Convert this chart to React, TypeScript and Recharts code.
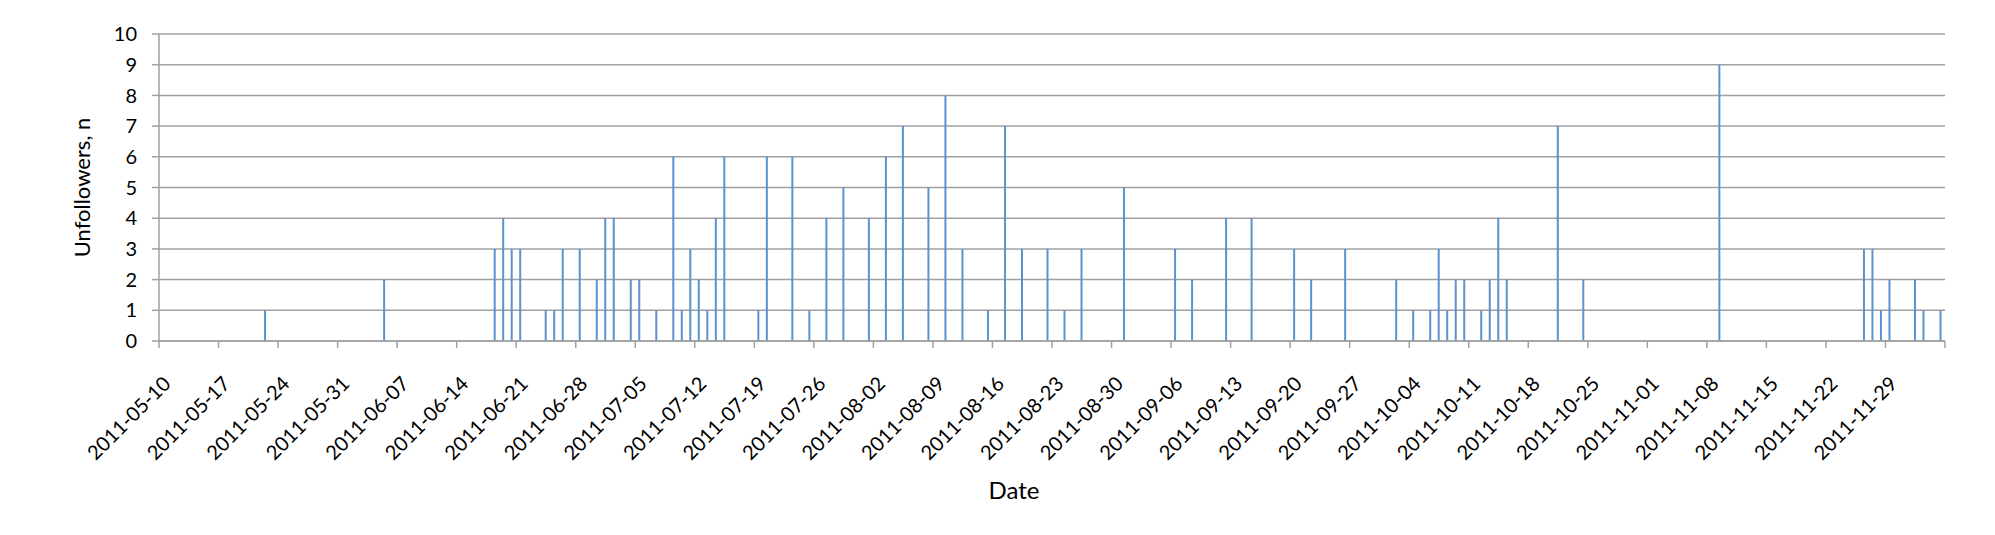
import { Bar, BarChart, CartesianGrid, XAxis, YAxis } from 'recharts';

// days with at least one unfollower, and how many
const unfollowDates = [
	'2011-05-22', '2011-06-05',
	'2011-06-18', '2011-06-19', '2011-06-20', '2011-06-21', '2011-06-24', '2011-06-25', '2011-06-26', '2011-06-28', '2011-06-30',
	'2011-07-01', '2011-07-02', '2011-07-04', '2011-07-05', '2011-07-07', '2011-07-09', '2011-07-10', '2011-07-11', '2011-07-12',
	'2011-07-13', '2011-07-14', '2011-07-15', '2011-07-19', '2011-07-20', '2011-07-23', '2011-07-25', '2011-07-27', '2011-07-29',
	'2011-08-01', '2011-08-03', '2011-08-05', '2011-08-08', '2011-08-10', '2011-08-12', '2011-08-15', '2011-08-17', '2011-08-19',
	'2011-08-22', '2011-08-24', '2011-08-26', '2011-08-31',
	'2011-09-06', '2011-09-08', '2011-09-12', '2011-09-15', '2011-09-20', '2011-09-22', '2011-09-26',
	'2011-10-02', '2011-10-04', '2011-10-06', '2011-10-07', '2011-10-08', '2011-10-09', '2011-10-10', '2011-10-12', '2011-10-13',
	'2011-10-14', '2011-10-15', '2011-10-21', '2011-10-24',
	'2011-11-09', '2011-11-26', '2011-11-27', '2011-11-28', '2011-11-29', '2011-12-02', '2011-12-03', '2011-12-05',
];

const unfollowCounts = [
	1, 2,
	3, 4, 3, 3, 1, 1, 3, 3, 2,
	4, 4, 2, 2, 1, 6, 1, 3, 2,
	1, 4, 6, 1, 6, 6, 1, 4, 5,
	4, 6, 7, 5, 8, 3, 1, 7, 3,
	3, 1, 3, 5,
	3, 2, 4, 4, 3, 2, 3,
	2, 1, 1, 3, 1, 2, 2, 1, 2,
	4, 2, 7, 2,
	9, 3, 3, 1, 2, 2, 1, 1,
];

const dateTickLabels = [
	'2011-05-10', '2011-05-17', '2011-05-24', '2011-05-31', '2011-06-07', '2011-06-14', '2011-06-21', '2011-06-28',
	'2011-07-05', '2011-07-12', '2011-07-19', '2011-07-26', '2011-08-02', '2011-08-09', '2011-08-16', '2011-08-23',
	'2011-08-30', '2011-09-06', '2011-09-13', '2011-09-20', '2011-09-27', '2011-10-04', '2011-10-11', '2011-10-18',
	'2011-10-25', '2011-11-01', '2011-11-08', '2011-11-15', '2011-11-22', '2011-11-29',
];

const yTicks = [0, 1, 2, 3, 4, 5, 6, 7, 8, 9, 10];

const axisStart = '2011-05-10';
const axisEnd = '2011-12-06';

const DAY = 86400000;
const dayIndex = (d: string) => Math.round((Date.parse(d) - Date.parse(axisStart)) / DAY);

// each day is a slot on the axis, the bar sits in the middle of it
const chartData = unfollowDates.map((d, i) => ({ day: dayIndex(d) + 0.5, count: unfollowCounts[i] }));

const endDay = dayIndex(axisEnd);
const xTicks = [...dateTickLabels.map(dayIndex), endDay];

const FONT = 'Lato, "Open Sans", sans-serif';
const GRID = '#a0a0a0';

const DateTick = ({ x, y, payload }: any) => {
	const label = payload.value === endDay ? '' : dateTickLabels[xTicks.indexOf(payload.value)];
	return (
		<g transform={`translate(${x + 13},${y + 37})`}>
			<text x={0} y={0} textAnchor="end" transform="rotate(-45)" fontSize={20} fontFamily={FONT} fill="#000">
				{label}
			</text>
		</g>
	);
};

const renderYTitle = ({ viewBox }: any) => (
	<text
		x={81}
		y={viewBox.y + viewBox.height / 2}
		transform={`rotate(-90, 81, ${viewBox.y + viewBox.height / 2})`}
		textAnchor="middle"
		dominantBaseline="central"
		fontSize={22}
		fontFamily={FONT}
		fill="#000"
	>
		Unfollowers, n
	</text>
);

const renderXTitle = ({ viewBox }: any) => (
	<text
		x={viewBox.x + viewBox.width / 2 - 38}
		y={viewBox.y + 158}
		textAnchor="middle"
		fontSize={24}
		fontFamily={FONT}
		fill="#000"
	>
		Date
	</text>
);

export default function App() {
	return (
		<div style={{ width: 1995, height: 535, background: '#fff' }}>
			<style>{'body{margin:0}'}</style>
			<BarChart width={1995} height={535} data={chartData} margin={{ top: 34, right: 50, left: 0, bottom: 0 }}>
				<CartesianGrid vertical={false} stroke={GRID} strokeWidth={1.5} />
				<XAxis
					dataKey="day"
					type="number"
					domain={[0, endDay]}
					ticks={xTicks}
					interval={0}
					height={194}
					tickSize={7}
					tickMargin={0}
					axisLine={{ stroke: GRID, strokeWidth: 1.5 }}
					tickLine={{ stroke: GRID, strokeWidth: 1.5 }}
					tick={<DateTick />}
					label={{ content: renderXTitle }}
				/>
				<YAxis
					type="number"
					domain={[0, 10]}
					ticks={yTicks}
					interval={0}
					width={159}
					tickSize={7}
					tickMargin={15}
					axisLine={{ stroke: GRID, strokeWidth: 1.5 }}
					tickLine={{ stroke: GRID, strokeWidth: 1.5 }}
					tick={{ fontSize: 20, fontFamily: FONT, fill: '#000' }}
					label={{ content: renderYTitle }}
				/>
				<Bar dataKey="count" fill="#5a93d0" barSize={2} isAnimationActive={false} />
			</BarChart>
		</div>
	);
}
